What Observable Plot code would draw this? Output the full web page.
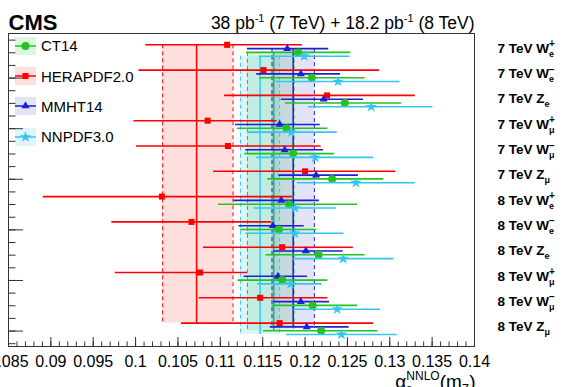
<!DOCTYPE html>
<html><head><meta charset="utf-8">
<script src="https://cdn.jsdelivr.net/npm/d3@7"></script>
<script src="https://cdn.jsdelivr.net/npm/@observablehq/plot@0.6"></script>
<style>
body{margin:0;background:#fff;font-family:"Liberation Sans",Arial,Helvetica,sans-serif;}
#wrap{position:relative;width:568px;height:387px;overflow:hidden;}
#chart svg{display:block;}
.item{position:absolute;left:15px;height:18px;display:flex;align-items:center;white-space:nowrap;font-size:15px;color:#000;}
.item svg{display:block;margin-right:5px;}
</style></head><body>
<div id="wrap"><div id="chart"></div><div id="legend"></div></div>
<script>
// ---- data ----
const rowEnergy = ["7 TeV","7 TeV","7 TeV","7 TeV","7 TeV","7 TeV","8 TeV","8 TeV","8 TeV","8 TeV","8 TeV","8 TeV"];
const rowBoson  = ["W","W","Z","W","W","Z","W","W","Z","W","W","Z"];
const rowCharge = ["+","\u2212","","+","\u2212","","+","\u2212","","+","\u2212",""];
const rowLepton = ["e","e","e","μ","μ","μ","e","e","e","μ","μ","μ"];

const pdfs = ["CT14","HERAPDF2.0","MMHT14","NNPDF3.0"];

const ct14Value = [0.1192,0.1208,0.1247,0.1178,0.1186,0.1232,0.1181,0.1169,0.1216,0.1173,0.1209,0.1219];
const ct14Low   = [0.1131,0.1147,0.1177,0.1120,0.1129,0.1156,0.1098,0.1124,0.1154,0.1121,0.1161,0.1151];
const ct14High  = [0.1254,0.1271,0.1314,0.1227,0.1235,0.1293,0.1262,0.1214,0.1271,0.1227,0.1262,0.1286];

const heraValue = [0.1108,0.1151,0.1226,0.1085,0.1109,0.1200,0.1031,0.1066,0.1173,0.1076,0.1147,0.1170];
const heraLow   = [0.1012,0.1004,0.1105,0.0998,0.1001,0.1092,0.0891,0.0972,0.1080,0.0976,0.1075,0.1054];
const heraHigh  = [0.1197,0.1288,0.1330,0.1167,0.1219,0.1307,0.1185,0.1161,0.1257,0.1132,0.1227,0.1281];

const mmhtValue = [0.1179,0.1195,0.1222,0.1170,0.1176,0.1213,0.1172,0.1162,0.1201,0.1168,0.1195,0.1202];
const mmhtLow   = [0.1132,0.1143,0.1172,0.1118,0.1130,0.1169,0.1116,0.1122,0.1163,0.1128,0.1163,0.1159];
const mmhtHigh  = [0.1228,0.1242,0.1269,0.1218,0.1222,0.1263,0.1217,0.1199,0.1245,0.1203,0.1229,0.1252];

const nnpdfValue = [0.1199,0.1239,0.1278,0.1184,0.1212,0.1260,0.1188,0.1188,0.1245,0.1183,0.1238,0.1243];
const nnpdfLow   = [0.1146,0.1166,0.1204,0.1132,0.1143,0.1191,0.1140,0.1130,0.1186,0.1144,0.1187,0.1178];
const nnpdfHigh  = [0.1253,0.1312,0.1351,0.1238,0.1281,0.1330,0.1237,0.1246,0.1305,0.1220,0.1289,0.1309];

// combined alpha_s per PDF (CT14, HERAPDF2.0, MMHT14, NNPDF3.0)
const bandCenter = [0.1163,0.1072,0.1186,0.1147];
const bandLow    = [0.1132,0.1032,0.1161,0.1124];
const bandHigh   = [0.1187,0.1115,0.1211,0.1170];

const xTickValues = [0.085,0.09,0.095,0.1,0.105,0.11,0.115,0.12,0.125,0.13,0.135,0.14];

const headerParts = [["38 pb",""],["-1","sup"],[" (7 TeV) + 18.2 pb",""],["-1","sup"],[" (8 TeV)",""]];

// ---- styling ----
const style = {
  "CT14":       {color:"#22c322", fill:"#00b400", symbol:"circle",   r:4,   slot: 0.075},
  "HERAPDF2.0": {color:"#ff0000", fill:"#ff0000", symbol:"square",   r:3.4, slot:-0.225},
  "MMHT14":     {color:"#1f1fd6", fill:"#2525c8", symbol:"triangle", r:3,   slot:-0.075},
  "NNPDF3.0":   {color:"#33c6f0", fill:"#00b4e6", symbol:"star",     r:3.6, slot: 0.225}
};
const series = {
  "CT14":[ct14Value,ct14Low,ct14High],
  "HERAPDF2.0":[heraValue,heraLow,heraHigh],
  "MMHT14":[mmhtValue,mmhtLow,mmhtHigh],
  "NNPDF3.0":[nnpdfValue,nnpdfLow,nnpdfHigh]
};

const rows = rowEnergy.map((e,i)=>({
  row:i+1,
  key:`${e} ${rowBoson[i]}${rowCharge[i]}${rowLepton[i]}`,
  base:`${e} ${rowBoson[i]}`, charge:rowCharge[i], lepton:rowLepton[i]
}));
const rowMap = new Map(rows.map(r=>[r.key,r]));
const nRows = rows.length;

const points = [];
pdfs.forEach(p=>{
  const [v,l,h] = series[p];
  v.forEach((val,i)=>points.push({pdf:p,row:i+1,value:val,low:l[i],high:h[i]}));
});
const bands = pdfs.map((p,j)=>({pdf:p,center:bandCenter[j],low:bandLow[j],high:bandHigh[j]}));

const W=568,H=387,mL=8,mR=94,mT=33,mB=41;
const plotW=W-mL-mR, plotH=H-mT-mB;

const xMinor = d3.range(85,141).map(i=>i/1000);
const yMajor = d3.range(2.09,12.7,2);
const yMinor = d3.range(0.59,12.7,0.5);

const bandMarks=[], lineMarks=[], pointMarks=[];
pdfs.forEach(p=>{
  const s=style[p];
  const b=bands.filter(d=>d.pdf===p);
  const y1=()=>1+s.slot, y2=()=>nRows+s.slot;
  bandMarks.push(Plot.rect(b,{x1:"low",x2:"high",y1,y2,fill:s.fill,fillOpacity:0.13}));
  lineMarks.push(Plot.ruleX(b,{x:"center",y1,y2,stroke:s.color,strokeWidth:1.5}));
  lineMarks.push(Plot.ruleX(b,{x:"low",y1,y2,stroke:s.color,strokeWidth:1,strokeDasharray:"4,3"}));
  lineMarks.push(Plot.ruleX(b,{x:"high",y1,y2,stroke:s.color,strokeWidth:1,strokeDasharray:"4,3"}));
});
["HERAPDF2.0","MMHT14","CT14","NNPDF3.0"].forEach(p=>{
  const s=style[p];
  const pts=points.filter(d=>d.pdf===p);
  pointMarks.push(Plot.ruleY(pts,{y:d=>d.row+s.slot,x1:"low",x2:"high",stroke:s.color,strokeWidth:1.6}));
  pointMarks.push(Plot.dot(pts,{x:"value",y:d=>d.row+s.slot,symbol:s.symbol,r:s.r,fill:s.color,stroke:"none"}));
});

const fmt = d=>String(+d.toFixed(3));

const svg = Plot.plot({
  width:W,height:H,marginLeft:mL,marginRight:mR,marginTop:mT,marginBottom:mB,
  style:{fontFamily:'"Liberation Sans",Arial,Helvetica,sans-serif',background:"#fff",color:"#000"},
  x:{domain:[0.085,0.14]},
  y:{domain:[12.7,0.328],axis:null},
  marks:[
    ...bandMarks,
    ...lineMarks,
    ...pointMarks,
    Plot.tickX(xMinor,{x:d=>d,insetTop:plotH-4.5,stroke:"#333",strokeWidth:1}),
    Plot.tickX(xTickValues,{x:d=>d,insetTop:plotH-9,stroke:"#333",strokeWidth:1}),
    Plot.tickY(yMinor,{y:d=>d,insetRight:plotW-7.5,stroke:"#333",strokeWidth:1}),
    Plot.tickY(yMajor,{y:d=>d,insetRight:plotW-15,stroke:"#333",strokeWidth:1}),
    Plot.frame({stroke:"#333",strokeWidth:1}),
    Plot.axisX(xTickValues,{anchor:"bottom",tickSize:0,tickPadding:9,fontSize:16,tickFormat:fmt,label:null}),
    Plot.text(rows,{y:"row",text:"key",frameAnchor:"right",dx:23,dy:-2,textAnchor:"start",lineAnchor:"middle",fontSize:13.5,fontWeight:"bold"}),
    Plot.text(["CMS"],{text:d=>d,frameAnchor:"top-left",dy:-11,textAnchor:"start",lineAnchor:"middle",fontSize:22,fontWeight:"bold"}),
    Plot.text(["__HEADER__"],{text:d=>d,frameAnchor:"top-right",dy:-10,textAnchor:"end",lineAnchor:"middle",fontSize:17.5}),
    Plot.text(["__XTITLE__"],{text:d=>d,frameAnchor:"bottom-right",dy:35,dx:1,textAnchor:"end",lineAnchor:"middle",fontSize:19})
  ]
});
document.getElementById("chart").appendChild(svg);

// ---- rich text (sub/superscripts) ----
const NS="http://www.w3.org/2000/svg";
function tspan(el,s,attrs={}){const t=document.createElementNS(NS,"tspan");t.textContent=s;for(const k in attrs)t.setAttribute(k,attrs[k]);el.appendChild(t);return t;}
svg.querySelectorAll("text").forEach(el=>{
  const key=el.textContent;
  if(rowMap.has(key)){
    const r=rowMap.get(key);
    el.textContent="";
    tspan(el,r.base);
    if(r.charge){
      const s=tspan(el,r.charge,{dy:-5.5,"font-size":10});
      const w=s.getComputedTextLength();
      tspan(el,r.lepton,{dx:-w,dy:9.5,"font-size":9});
    } else {
      tspan(el,r.lepton,{dy:4,"font-size":9});
    }
  } else if(key==="__XTITLE__"){
    el.textContent="";
    tspan(el,"α");
    const s=tspan(el,"s",{dy:5,"font-size":12});
    const w=s.getComputedTextLength();
    tspan(el,"NNLO",{dx:-w,dy:-13,"font-size":12});
    tspan(el,"(m",{dy:8});
    tspan(el,"Z",{dy:5,"font-size":12});
    tspan(el,")",{dy:-5});
  } else if(key==="__HEADER__"){
    el.textContent="";
    headerParts.forEach(([t,kind])=>{
      if(kind==="sup") tspan(el,t,{dy:-7,"font-size":11});
      else tspan(el,t,{dy:el.lastChild&&el.lastChild.getAttribute("font-size")?7:0});
    });
  }
});

// ---- legend ----
const legendCenters = pdfs.map((p,i)=>45.8+i*30.3);
const legend=d3.select("#legend");
pdfs.forEach((p,i)=>{
  const s=style[p];
  const item=legend.append("div").attr("class","item").style("top",(legendCenters[i]-9)+"px");
  const sw=item.append("svg").attr("width",21).attr("height",18);
  sw.append("rect").attr("width",21).attr("height",18).attr("fill",s.fill).attr("fill-opacity",0.13);
  sw.append("line").attr("x1",0).attr("x2",21).attr("y1",9).attr("y2",9).attr("stroke",s.color).attr("stroke-width",1.5);
  const sym={circle:d3.symbolCircle,square:d3.symbolSquare,triangle:d3.symbolTriangle,star:d3.symbolStar}[s.symbol];
  sw.append("path").attr("transform","translate(10.5,9)").attr("d",d3.symbol(sym,Math.PI*s.r*s.r)()).attr("fill",s.color);
  item.append("span").text(p);
});
</script>
</body></html>
